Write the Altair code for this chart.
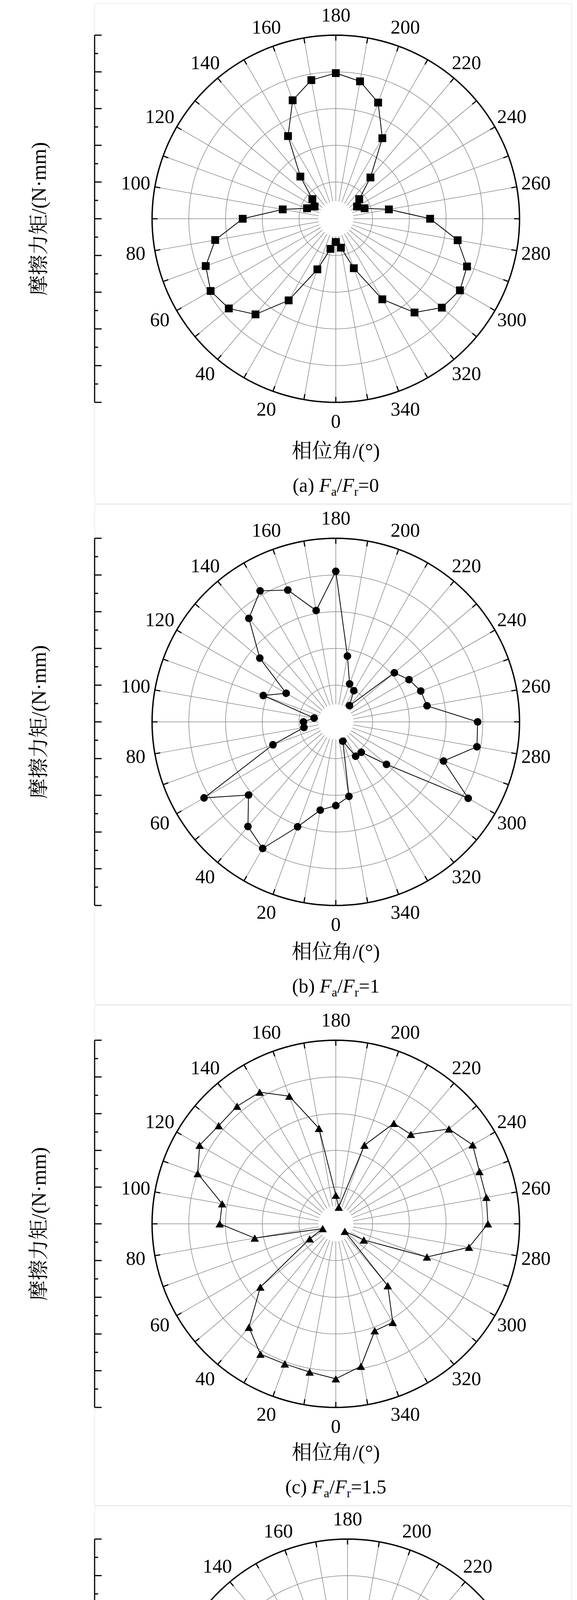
import altair as alt
import pandas as pd

FONT = "Liberation Serif, Noto Serif CJK SC, Noto Sans CJK SC"

# phase angle (deg), one point every 10 degrees
angles = list(range(0, 360, 10))

# friction torque (N·mm)
torque_a = [131.9, 132.5, 134.4, 137.7, 140.2, 141.4, 141.8, 141.3, 140.0, 137.6,
            134.4, 132.5, 132.0, 132.5, 134.5, 137.8, 140.3, 141.5, 141.9, 141.4,
            140.1, 137.6, 134.4, 132.5, 132.0, 132.5, 134.4, 137.7, 140.1, 141.4,
            141.7, 141.3, 140.0, 137.6, 134.3, 132.4]
torque_b = [298.4, 299.2, 302.2, 306.9, 305.6, 302.5, 307.7, 296.1, 291.4, 291.4,
            290.0, 297.5, 294.8, 300.5, 305.4, 307.6, 306.1, 302.4, 307.5, 296.1,
            292.5, 291.9, 289.9, 297.4, 298.5, 299.3, 299.6, 306.3, 306.5, 302.6,
            307.8, 296.0, 292.4, 292.4, 289.8, 297.3]
torque_c = [393.1, 392.5, 392.3, 392.5, 390.4, 385.4, 376.1, 373.9, 383.2, 387.8,
            387.7, 392.0, 393.4, 392.8, 392.9, 392.7, 390.5, 385.2, 375.9, 374.3,
            383.4, 387.8, 387.9, 392.1, 393.5, 392.8, 392.8, 392.7, 390.4, 385.2,
            376.4, 373.6, 383.0, 387.5, 387.5, 391.7]
torque_d = [502.4, 500.7, 498.3, 498.4, 496.2, 494.7, 493.1, 495.8, 495.6, 495.6,
            498.8, 500.6, 502.5, 500.8, 498.4, 498.3, 496.1, 494.2, 493.1, 495.7,
            495.6, 495.5, 498.8, 500.5, 502.4, 500.2, 497.7, 494.9, 496.2, 495.0,
            493.1, 495.2, 495.4, 495.7, 498.7, 500.5]

angle_labels = list(range(0, 360, 20))

PANEL_H = 1280
PLOT_LEFT = 240
PLOT_W = 1220
FS = 50


def text_width(s, size):
    w = {"(": .333, ")": .333, " ": .25, "/": .278, "=": .564, ".": .25,
         "F": .611, "a": .444, "b": .5, "c": .444, "d": .5, "r": .333}
    return sum(w.get(ch, .5) for ch in s) * size


def panel(values, base, rng, step, fmt, shape, size, cx, cy, R, tag, ratio):
    ppu = R / rng
    xmin = (PLOT_LEFT - cx) / ppu
    xmax = (PLOT_LEFT + PLOT_W - cx) / ppu
    xs = alt.Scale(domain=[xmin, xmax], nice=False, zero=False)
    ys = alt.Scale(domain=[(cy - PANEL_H) / ppu, cy / ppu], nice=False, zero=False)
    X = lambda f: alt.X(f, type="quantitative", scale=xs, axis=None)
    Y = lambda f: alt.Y(f, type="quantitative", scale=ys, axis=None)

    # rings and spokes
    ring_rows = [{"r": rng * k / 5, "a": a} for k in range(1, 5) for a in range(0, 362, 2)]
    rings = alt.Chart(pd.DataFrame(ring_rows)).transform_calculate(
        x="-datum.r*sin(datum.a*PI/180)", y="-datum.r*cos(datum.a*PI/180)"
    ).mark_line(color="#8a8a8a", strokeWidth=1.5).encode(
        x=X("x"), y=Y("y"), detail="r:N", order="a:Q")
    outer_rows = [{"r": rng, "a": a} for a in range(0, 362, 2)]
    outer = alt.Chart(pd.DataFrame(outer_rows)).transform_calculate(
        x="-datum.r*sin(datum.a*PI/180)", y="-datum.r*cos(datum.a*PI/180)"
    ).mark_line(color="black", strokeWidth=3.5).encode(
        x=X("x"), y=Y("y"), order="a:Q")
    hole = 45 / ppu
    spokes = alt.Chart(pd.DataFrame({"a": angles})).transform_calculate(
        x=f"-{hole}*sin(datum.a*PI/180)", y=f"-{hole}*cos(datum.a*PI/180)",
        x2=f"-{rng}*sin(datum.a*PI/180)", y2=f"-{rng}*cos(datum.a*PI/180)",
    ).mark_rule(color="#8a8a8a", strokeWidth=1.5).encode(
        x=X("x"), y=Y("y"), x2="x2:Q", y2="y2:Q")
    tin = rng - 14 / ppu
    cticks = alt.Chart(pd.DataFrame({"a": angles})).transform_calculate(
        x=f"-{tin}*sin(datum.a*PI/180)", y=f"-{tin}*cos(datum.a*PI/180)",
        x2=f"-{rng}*sin(datum.a*PI/180)", y2=f"-{rng}*cos(datum.a*PI/180)",
    ).mark_rule(color="black", strokeWidth=3).encode(
        x=X("x"), y=Y("y"), x2="x2:Q", y2="y2:Q")
    rl = (R + 50) / ppu
    alabels = alt.Chart(pd.DataFrame({"a": angle_labels})).transform_calculate(
        x=f"-{rl}*sin(datum.a*PI/180)", y=f"-{rl}*cos(datum.a*PI/180)"
    ).mark_text(font=FONT, fontSize=FS, baseline="middle").encode(
        x=X("x"), y=Y("y"), text="a:Q")

    # data polygon
    df = pd.DataFrame({"a": angles + [360], "v": values + [values[0]]})
    df["o"] = range(len(df))
    poly = alt.Chart(df).transform_calculate(
        x=f"-(datum.v-{base})*sin(datum.a*PI/180)",
        y=f"-(datum.v-{base})*cos(datum.a*PI/180)")
    line = poly.mark_line(color="black", strokeWidth=2).encode(
        x=X("x"), y=Y("y"), order="o:Q")
    pts = poly.transform_filter("datum.a < 360").mark_point(
        shape=shape, size=size, filled=True, color="black", opacity=1).encode(
        x=X("x"), y=Y("y"))

    # left radial axis
    major = [round(step * k, 4) for k in range(-5, 6)]
    minor = [round(step * (k + 0.5), 4) for k in range(-5, 5)]
    axis_line = alt.Chart(pd.DataFrame({"x": [xmin], "y": [-rng], "y2": [rng]})).mark_rule(
        color="black", strokeWidth=3).encode(x=X("x"), y=Y("y"), y2="y2:Q")
    tdf = pd.DataFrame({"y": major + minor,
                        "x": [xmin] * (len(major) + len(minor)),
                        "x2": [xmin + 18 / ppu] * len(major) + [xmin + 9 / ppu] * len(minor)})
    ticks = alt.Chart(tdf).mark_rule(color="black", strokeWidth=3).encode(
        x=X("x"), x2="x2:Q",
        y=alt.Y("y:Q", scale=ys, axis=alt.Axis(
            values=major, domain=False, ticks=False, grid=False, title=None,
            labelExpr=f"format({base} + abs(datum.value), '{fmt}')",
            labelFont=FONT, labelFontSize=FS, labelColor="black",
            labelPadding=19, labelBaseline="middle")))

    # titles
    ytx = 99 if tag != "d" else 56
    ytitle = alt.Chart(pd.DataFrame({"t": ["摩擦力矩/(N·mm)"],
                                     "x": [(ytx - cx) / ppu], "y": [0.0]})).mark_text(
        font=FONT, fontSize=52, angle=270, baseline="middle").encode(
        x=X("x"), y=Y("y"), text="t:N")
    xtitle = alt.Chart(pd.DataFrame({"t": ["相位角/(°)"],
                                     "x": [(857 - cx) / ppu],
                                     "y": [(cy - 1147) / ppu]})).mark_text(
        font=FONT, fontSize=52, baseline="middle").encode(
        x=X("x"), y=Y("y"), text="t:N")

    pieces = [(f"({tag}) ", "n"), ("F", "i"), ("a", "s"), ("/", "n"),
              ("F", "i"), ("r", "s"), (f"={ratio}", "n")]
    total = sum(text_width(t, 32 if k == "s" else FS) for t, k in pieces)
    px = 857 - total / 2
    rows = []
    for t, k in pieces:
        sz = 32 if k == "s" else FS
        by = 1250 + (10 if k == "s" else 0)
        rows.append({"t": t, "k": k, "x": (px - cx) / ppu, "y": (cy - by) / ppu})
        px += text_width(t, sz)
    cap = alt.Chart(pd.DataFrame(rows))
    cap_layers = []
    for k, style, sz in [("n", "normal", FS), ("i", "italic", FS), ("s", "normal", 32)]:
        cap_layers.append(cap.transform_filter(f"datum.k == '{k}'").mark_text(
            font=FONT, align="left", baseline="alphabetic", fontStyle=style,
            fontSize=sz).encode(x=X("x"), y=Y("y"), text="t:N"))

    return alt.layer(rings, spokes, outer, cticks, alabels, line, pts,
                     axis_line, ticks, ytitle, xtitle, *cap_layers).properties(
        width=PLOT_W, height=PANEL_H)


pa = panel(torque_a, 130, 15, 3, "d", "square", 400, 857, 551, 470, "a", "0")
pb = panel(torque_b, 287, 25, 5, "d", "circle", 380, 857, 557, 470, "b", "1")
pc = panel(torque_c, 372, 25, 5, "d", "triangle-up", 460, 857, 560, 470, "c", "1.5")
pd_ = panel(torque_d, 492, 12, 2.4, ".1f", "triangle-down", 460, 887, 553, 468, "d", "2")

chart = alt.vconcat(pa, pb, pc, pd_, spacing=0).properties(
    padding={"left": 23, "top": 0, "right": 0, "bottom": 0}
).configure_view(stroke=None).configure(background="white")

chart.save("out.html", embed_options={"renderer": "svg", "actions": False})
